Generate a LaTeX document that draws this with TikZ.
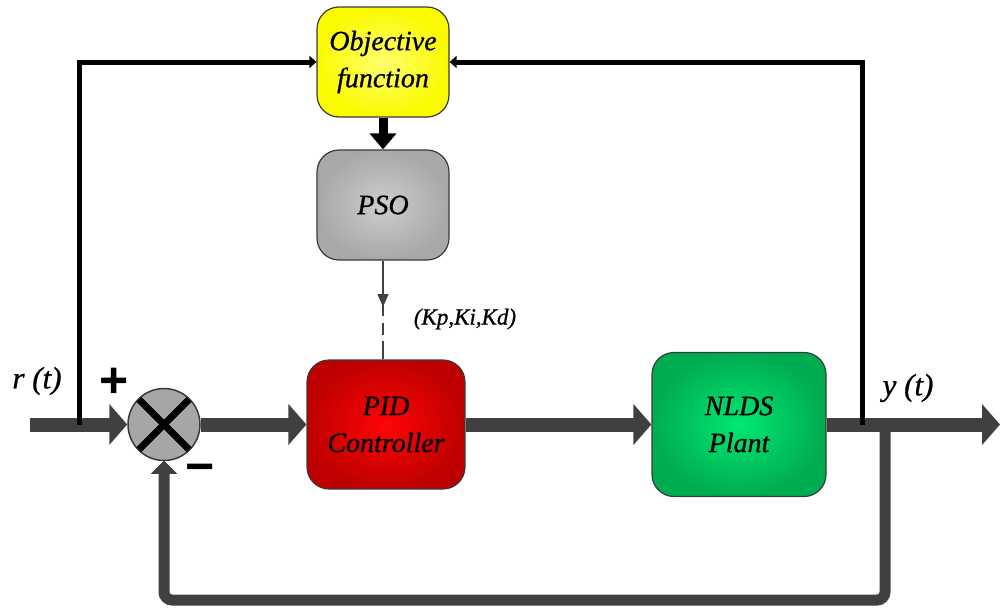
\documentclass[tikz,border=0pt]{standalone}
\usepackage{fontspec}
\setmainfont{Liberation Serif}
\newfontfamily\heavy[ItalicFeatures={FakeBold=0.8}]{Liberation Serif}
\newfontfamily\signfont{Liberation Sans}
\usetikzlibrary{arrows.meta,decorations.markings,calc}
\definecolor{linegray}{HTML}{404040}
\definecolor{bordergray}{HTML}{3A3A3A}
\definecolor{sumgray}{HTML}{A6A6A6}
\begin{document}
\begin{tikzpicture}[x=1pt,y=-1pt,
  blk/.style={draw=bordergray, line width=1.2pt, rounded corners=22pt, align=center,
    font=\fontsize{28}{37}\selectfont\heavy\itshape, inner sep=0pt},
  mainline/.style={draw=linegray, line width=14pt, -{Triangle[length=18pt,width=40pt]}},
  fbline/.style={draw=linegray, line width=11pt, rounded corners=8pt},
  tapline/.style={draw=black, line width=5pt, -{Triangle[length=7pt,width=12pt]}},
  lbl/.style={font=\fontsize{31}{33}\selectfont\heavy\itshape, inner sep=0pt},
  sign/.style={font=\fontsize{50}{52}\selectfont\signfont\bfseries, inner sep=0pt}
]
\useasboundingbox (0,0) rectangle (1000,608);

% blocks
\node[blk, shading=radial, inner color={rgb,255:red,255;green,255;blue,110}, outer color={rgb,255:red,250;green,250;blue,0},
  minimum width=132pt, minimum height=110pt] (obj) at (383,62) {Objective\\function};
\node[blk, shading=radial, inner color={rgb,255:red,205;green,205;blue,205}, outer color={rgb,255:red,168;green,168;blue,168},
  minimum width=132pt, minimum height=110pt] (pso) at (383,205) {PSO};
\node[blk, shading=radial, inner color={rgb,255:red,255;green,5;blue,5}, outer color={rgb,255:red,190;green,0;blue,0},
  minimum width=158pt, minimum height=129pt] (pid) at (386,424.5) {PID\\Controller};
\node[blk, shading=radial, inner color={rgb,255:red,0;green,232;blue,115}, outer color={rgb,255:red,0;green,172;blue,80},
  minimum width=174pt, minimum height=144pt] (plant) at (739,424.5) {NLDS\\Plant};

% summing junction
\node[circle, draw=bordergray, line width=1.5pt, fill=sumgray, minimum size=72pt, inner sep=0pt] (sum) at (164,424.5) {};
\draw[black, line width=7pt] ($(sum.center)+(-25,-25)$) -- ($(sum.center)+(25,25)$);
\draw[black, line width=7pt] ($(sum.center)+(-25,25)$) -- ($(sum.center)+(25,-25)$);

% coordinates
\coordinate (in) at (30,424.5);
\coordinate (out) at (1000,424.5);
\coordinate (tapL) at (79,424.5);
\coordinate (tapLtop) at (79,62);
\coordinate (tapR) at (862,424.5);
\coordinate (tapRtop) at (862,62);
\coordinate (fb) at (885,424.5);
\coordinate (fbR) at (885,600);
\coordinate (fbL) at (164,600);

% main path
\draw[mainline] (in) -- (sum.west);
\draw[mainline] (sum.east) -- (pid.west);
\draw[mainline] (pid.east) -- (plant.west);
\draw[mainline] (plant.east) -- (out);

% feedback
\draw[fbline] (fb) -- (fbR) -- (fbL) -- ($(sum.south)+(0,12)$);
\draw[linegray, line width=1pt, fill=linegray] ($(sum.south)+(-12,12)$) -- (sum.south) -- ($(sum.south)+(12,12)$) -- cycle;

% taps to objective
\draw[tapline] (tapL) -- (tapLtop) -- (obj.west);
\draw[tapline] (tapR) -- (tapRtop) -- (obj.east);

% obj -> pso
\draw[black, line width=9pt, -{Triangle[length=16pt,width=26pt]}] (obj.south) -- (pso.north);

% pso -> pid dashed
\draw[linegray, line width=1.2pt, dash pattern=on 34pt off 3pt on 18pt off 7pt on 12pt off 6pt on 20pt,
  postaction={decorate},
  decoration={markings, mark=at position 0.47 with {\arrow{Triangle[length=13pt,width=11pt]}}}]
  (pso.south) -- (pso.south |- pid.north);

% labels
\node[lbl] (rlbl) at (37,381) {r (t)};
\node[lbl] (ylbl) at (908,388) {y (t)};
\node[font=\fontsize{23}{25}\selectfont\heavy\itshape, inner sep=0pt] (klbl) at (465,319) {(Kp,Ki,Kd)};
\node[sign] (plus) at (114,383) {+};
\node[sign] (minus) at (200,474) {−};
\end{tikzpicture}
\end{document}
